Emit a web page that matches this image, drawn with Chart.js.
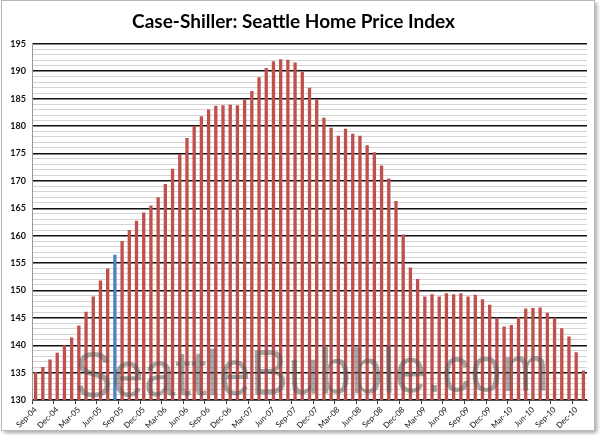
<!DOCTYPE html>
<html>
<head>
<meta charset="utf-8">
<script src="https://cdn.jsdelivr.net/npm/chart.js@4.4.1/dist/chart.umd.min.js"></script>
<style>
html,body{margin:0;padding:0;background:#fff;}
#wrap{width:600px;height:435px;position:relative;}
</style>
</head>
<body>
<div id="wrap"><canvas id="c" width="600" height="435"></canvas></div>
<script>
const categories = [
"Sep-04","Oct-04","Nov-04","Dec-04","Jan-05","Feb-05","Mar-05","Apr-05","May-05","Jun-05","Jul-05","Aug-05",
"Sep-05","Oct-05","Nov-05","Dec-05","Jan-06","Feb-06","Mar-06","Apr-06","May-06","Jun-06","Jul-06","Aug-06",
"Sep-06","Oct-06","Nov-06","Dec-06","Jan-07","Feb-07","Mar-07","Apr-07","May-07","Jun-07","Jul-07","Aug-07",
"Sep-07","Oct-07","Nov-07","Dec-07","Jan-08","Feb-08","Mar-08","Apr-08","May-08","Jun-08","Jul-08","Aug-08",
"Sep-08","Oct-08","Nov-08","Dec-08","Jan-09","Feb-09","Mar-09","Apr-09","May-09","Jun-09","Jul-09","Aug-09",
"Sep-09","Oct-09","Nov-09","Dec-09","Jan-10","Feb-10","Mar-10","Apr-10","May-10","Jun-10","Jul-10","Aug-10",
"Sep-10","Oct-10","Nov-10","Dec-10","Jan-11"
];
const indexValues = [
135.1,136.0,137.4,138.6,140.0,141.4,143.6,146.1,148.9,151.8,154.0,156.5,
159.0,161.0,162.7,164.2,165.5,167.0,169.4,172.2,174.9,177.8,180.0,181.8,
183.0,183.7,183.8,183.9,183.8,184.9,186.4,188.9,190.6,191.8,192.2,192.1,
191.6,189.9,187.0,184.9,181.5,179.7,178.2,179.5,178.6,178.2,176.5,175.2,
172.8,170.4,166.3,160.2,154.2,152.1,148.9,149.3,148.9,149.5,149.3,149.5,
148.9,149.2,148.4,147.4,145.0,143.4,143.7,145.1,146.7,146.8,146.9,145.9,
145.0,143.1,141.6,138.7,135.4
];
const highlightCategory = "Aug-05";
const yTickLabels = [130,135,140,145,150,155,160,165,170,175,180,185,190,195];

const barColors = categories.map(c => c === highlightCategory ? '#4F81BD' : '#C0504D');

const framePlugin = {
  id:'frame',
  beforeDraw(chart){
    const ctx = chart.ctx;
    ctx.save();
    ctx.fillStyle='#fff';
    ctx.fillRect(0,0,chart.width,chart.height);
    ctx.shadowColor='rgba(0,0,0,0.35)';
    ctx.shadowBlur=4;
    ctx.shadowOffsetX=2;
    ctx.shadowOffsetY=2;
    ctx.fillStyle='#fff';
    ctx.fillRect(1.5,0.5,593,430);
    ctx.shadowColor='transparent';
    ctx.strokeStyle='#b8b8b8';
    ctx.lineWidth=1;
    ctx.strokeRect(1.5,0.5,593,430);
    ctx.restore();
  }
};
const watermarkPlugin = {
  id:'watermark',
  afterDatasetsDraw(chart){
    const ctx = chart.ctx;
    ctx.save();
    ctx.translate(75,397);
    ctx.rotate(-0.014);
    ctx.font='64px "Liberation Sans", Arial, sans-serif';
    ctx.fillStyle='rgba(80,80,80,0.5)';
    ctx.textAlign='left';
    ctx.textBaseline='alphabetic';
    ctx.fillText('SeattleBubble.com',0,0,474);
    ctx.restore();
  }
};

new Chart(document.getElementById('c'), {
  type:'bar',
  data:{
    labels:categories,
    datasets:[{
      data:indexValues,
      backgroundColor:barColors,
      borderWidth:0,
      categoryPercentage:1.0,
      barPercentage:0.46
    }]
  },
  options:{
    responsive:false,
    animation:false,
    devicePixelRatio:1,
    layout:{padding:{left:0,right:13,top:0,bottom:4}},
    plugins:{
      legend:{display:false},
      tooltip:{enabled:false},
      title:{
        display:true,
        text:'Case-Shiller: Seattle Home Price Index',
        color:'#000',
        font:{family:'Lato, "Open Sans", sans-serif',size:19,weight:'bold',lineHeight:1.2},
        padding:{top:10,bottom:11}
      }
    },
    scales:{
      x:{
        offset:true,
        grid:{
          offset:true,
          drawOnChartArea:false,
          drawTicks:true,
          tickLength:4,
          tickColor:(c)=> (c.index%3===0 ? '#333' : 'rgba(0,0,0,0)')
        },
        border:{display:true,color:'#555',width:1},
        ticks:{
          autoSkip:false,
          maxRotation:45,
          minRotation:45,
          padding:1,
          color:'#111',
          font:{family:'Lato, sans-serif',size:8},
          callback:function(v,i){ return i%3===0 ? categories[i] : ''; }
        },
        afterFit(scale){ scale.height=31; }
      },
      y:{
        min:130,
        max:195,
        grid:{
          drawTicks:false,
          color:(c)=> (yTickLabels.includes(c.tick.value) ? '#111' : '#d4d4d4'),
          lineWidth:(c)=> (yTickLabels.includes(c.tick.value) ? 1.4 : 1)
        },
        border:{display:true,color:'#999',width:1},
        ticks:{
          stepSize:1,
          autoSkip:false,
          padding:6,
          color:'#111',
          font:{family:'Lato, sans-serif',size:9,weight:'bold'},
          callback:function(v){ return yTickLabels.includes(v) ? String(v) : ''; }
        },
        afterFit(scale){ scale.width=32; }
      }
    }
  },
  plugins:[framePlugin, watermarkPlugin]
});
</script>
</body>
</html>
